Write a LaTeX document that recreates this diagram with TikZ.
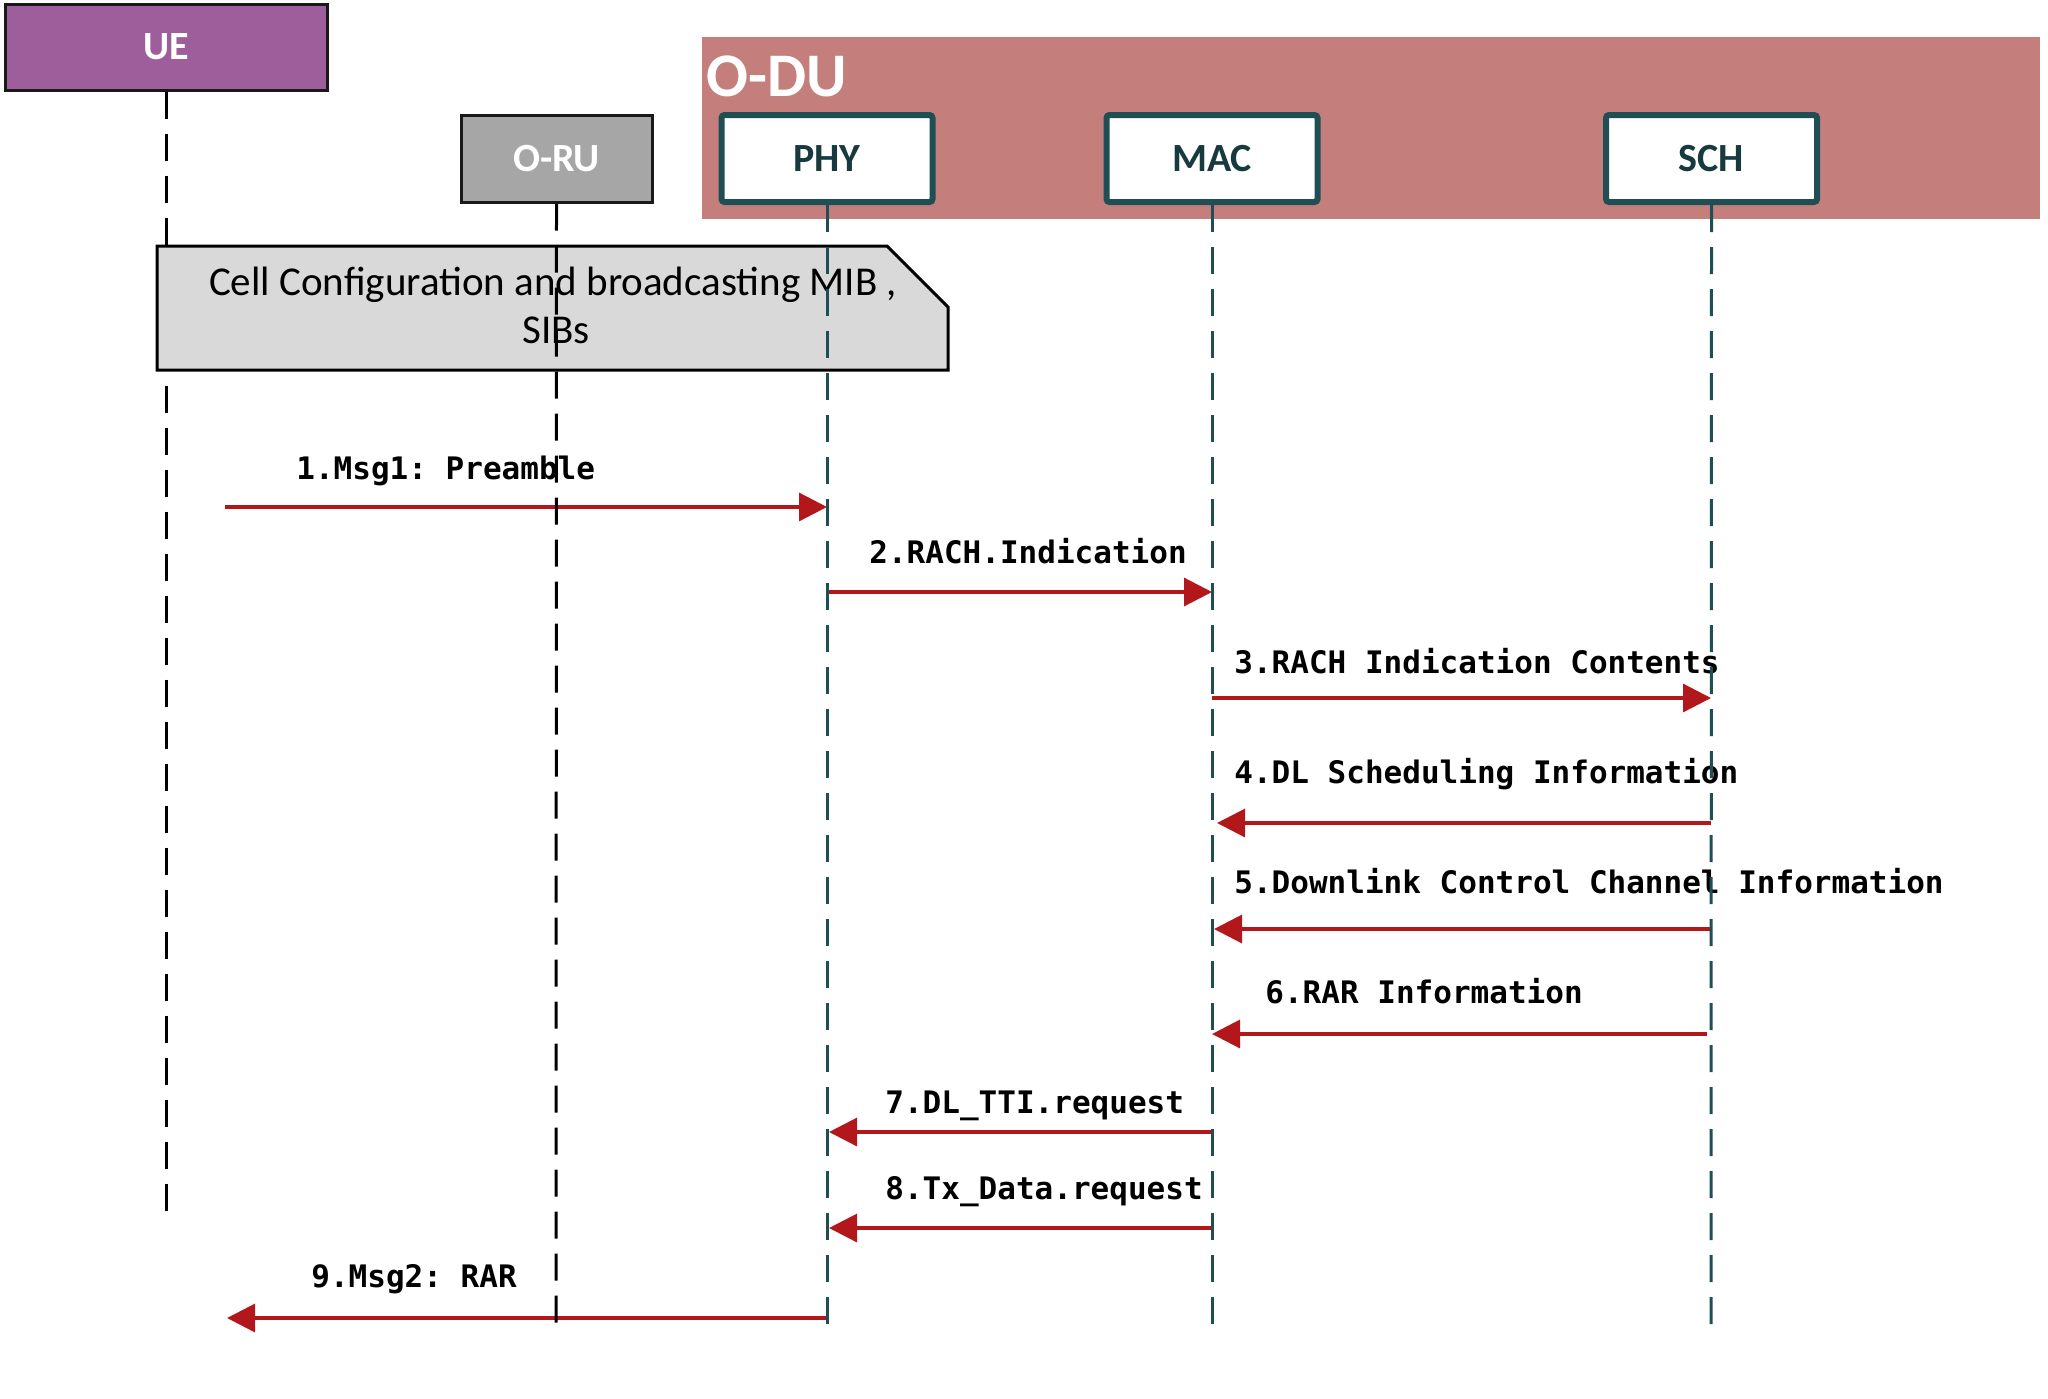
\documentclass[tikz,border=0pt]{standalone}
\usepackage{fontspec}
\setmainfont{Carlito}
\newfontfamily\monof{DejaVu Sans Mono}
\usetikzlibrary{arrows.meta}
\definecolor{uepurple}{HTML}{9E5E9B}
\definecolor{orugray}{HTML}{A6A6A6}
\definecolor{odurose}{HTML}{C47E7C}
\definecolor{notegray}{HTML}{D9D9D9}
\definecolor{tealborder}{HTML}{1F4E55}
\definecolor{tealtext}{HTML}{173A3F}
\definecolor{msgred}{HTML}{B2181B}
\frenchspacing
\begin{document}
\begin{tikzpicture}[x=0.5pt,y=-0.5pt,
  lifeblack/.style={draw=black,line width=1.5pt,dash pattern=on 13.5pt off 7.5pt},
  lifeteal/.style={draw=tealborder,line width=1.5pt,dash pattern=on 13.5pt off 7.5pt},
  msg/.style={draw=msgred,line width=1.6pt,-{Triangle[length=14pt,width=14pt]}},
  msglabel/.style={anchor=base west,inner sep=0pt,font=\frenchspacing\monof\bfseries\fontsize{15.5}{18}\selectfont},
  actorbox/.style={draw=black!90,line width=1.5pt,inner sep=0pt,text=white,font=\bfseries\fontsize{20}{24}\selectfont},
  layerbox/.style={draw=tealborder,fill=white,line width=3pt,rounded corners=1.5pt,minimum width=105.5pt,minimum height=43.5pt,inner sep=0pt,text=tealtext,font=\bfseries\fontsize{20}{24}\selectfont},
  notetext/.style={anchor=base,inner sep=0pt,font=\fontsize{20.5}{24}\selectfont}
]
\useasboundingbox (0,0) rectangle (2048,1398);
\fill[white] (0,0) rectangle (2048,1398);

% O-DU container
\fill[odurose] (702,37) rectangle (2040,219);
\node[anchor=base west,inner sep=0pt,text=white,font=\bfseries\fontsize{31}{34}\selectfont] (odu) at (706,96) {O-DU};

% actors
\node[actorbox,fill=uepurple,minimum width=161pt,minimum height=43pt] (ue) at (166,47) {UE};
\node[actorbox,fill=orugray,minimum width=95.5pt,minimum height=43.5pt] (oru) at (556.5,158.5) {O-RU};
\node[layerbox] (phy) at (827,158.5) {PHY};
\node[layerbox] (mac) at (1212,158.5) {MAC};
\node[layerbox] (sch) at (1711.5,158.5) {SCH};

% lifeline end points
\coordinate (ueend) at (166,1215);
\coordinate (oruend) at (556,1325);
\coordinate (phyend) at (827,1325);
\coordinate (macend) at (1212,1325);
\coordinate (schend) at (1711,1325);

% UE lifeline (behind note)
\draw[lifeblack] (ue.south) -- (ueend);

% note
\draw[fill=notegray,line width=1.5pt,line join=miter] (157,246) -- (887,246) -- (948,307) -- (948,370) -- (157,370) -- cycle;
\node[notetext] (notea) at (553,295) {Cell Configuration and broadcasting MIB ,};
\node[notetext] (noteb) at (556,343) {SIBs};

% message end points
\coordinate (m1s) at (225,507);  \coordinate (m1e) at (827,507);
\coordinate (m2s) at (827,592);  \coordinate (m2e) at (1212,592);
\coordinate (m3s) at (1212,698); \coordinate (m3e) at (1711,698);
\coordinate (m4s) at (1711,823); \coordinate (m4e) at (1217,823);
\coordinate (m5s) at (1711,929); \coordinate (m5e) at (1214,929);
\coordinate (m6s) at (1707,1034); \coordinate (m6e) at (1212,1034);
\coordinate (m7s) at (1211,1132); \coordinate (m7e) at (829,1132);
\coordinate (m8s) at (1213,1228); \coordinate (m8e) at (829,1228);
\coordinate (m9s) at (827,1318); \coordinate (m9e) at (227,1318);

\draw[msg] (m1s) -- (m1e);
\draw[msg] (m2s) -- (m2e);
\draw[msg] (m3s) -- (m3e);
\draw[msg] (m4s) -- (m4e);
\draw[msg] (m5s) -- (m5e);
\draw[msg] (m6s) -- (m6e);
\draw[msg] (m7s) -- (m7e);
\draw[msg] (m8s) -- (m8e);
\draw[msg] (m9s) -- (m9e);

\node[msglabel] (l1) at (296,479) {1.Msg1: Preamble};
\node[msglabel] (l2) at (869,563) {2.RACH.Indication};
\node[msglabel] (l3) at (1234,673) {3.RACH Indication Contents};
\node[msglabel] (l4) at (1234,783) {4.DL Scheduling Information};
\node[msglabel] (l5) at (1234,893) {5.Downlink Control Channel Information};
\node[msglabel] (l6) at (1265,1003) {6.RAR Information};
\node[msglabel] (l7) at (885,1113) {7.DL\_TTI.request};
\node[msglabel] (l8) at (885,1199) {8.Tx\_Data.request};
\node[msglabel] (l9) at (311,1287) {9.Msg2: RAR};

% lifelines on top
\draw[lifeblack] (oru.south) -- (oruend);
\draw[lifeteal] (phy.south) -- (phyend);
\draw[lifeteal] (mac.south) -- (macend);
\draw[lifeteal] (sch.south) -- (schend);
\end{tikzpicture}
\end{document}
